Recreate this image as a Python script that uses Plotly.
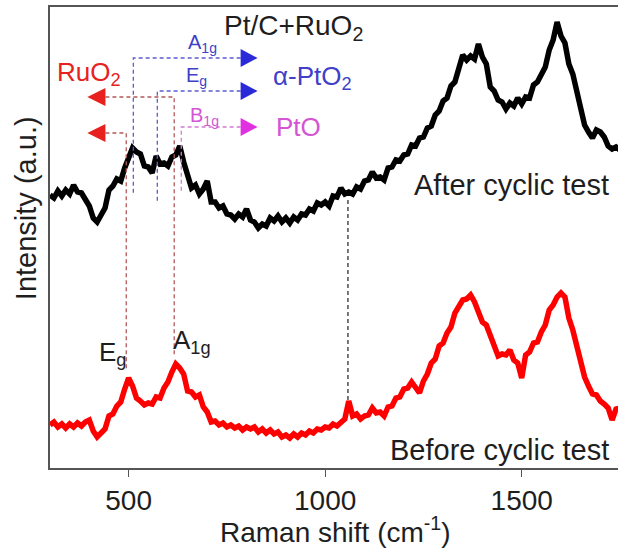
import plotly.graph_objects as go

# Raman shift grid (cm^-1)
shift = list(range(300, 1751, 10))

# Pt/C+RuO2 after cyclic test
after_cyclic = [
    273, 270, 277, 272, 278, 274, 283, 276, 275, 268,
    262, 250, 246, 253, 260, 278, 282, 289, 287, 300,
    309, 320, 316, 314, 302, 301, 295, 312, 304, 305,
    302, 311, 313, 322, 306, 291, 280, 283, 274, 279,
    287, 266, 266, 260, 262, 254, 253, 249, 254, 251,
    259, 248, 246, 240, 244, 242, 250, 247, 252, 246,
    250, 245, 251, 248, 254, 253, 259, 257, 265, 263,
    266, 262, 272, 271, 280, 274, 276, 274, 281, 279,
    287, 288, 296, 290, 291, 288, 300, 301, 308, 307,
    313, 314, 323, 322, 330, 331, 340, 342, 353, 357,
    367, 370, 382, 386, 402, 413, 408, 412, 409, 424,
    411, 404, 381, 377, 368, 366, 359, 365, 362, 370,
    364, 371, 370, 383, 386, 395, 401, 418, 428, 446,
    432, 425, 404, 394, 377, 362, 343, 336, 330, 338,
    336, 331, 322, 319, 321, 318,
]

# Pt/C+RuO2 before cyclic test
before_cyclic = [
    43, 46, 41, 44, 40, 44, 41, 45, 42, 46,
    48, 37, 31, 35, 39, 52, 54, 62, 66, 79,
    90, 82, 70, 67, 63, 65, 64, 71, 70, 80,
    86, 96, 104, 100, 94, 77, 76, 71, 73, 61,
    56, 46, 47, 43, 45, 41, 43, 40, 42, 38,
    41, 39, 41, 36, 39, 35, 38, 34, 36, 31,
    33, 30, 34, 31, 35, 33, 37, 35, 39, 38,
    41, 40, 44, 42, 46, 49, 67, 52, 54, 49,
    52, 53, 60, 55, 56, 52, 61, 62, 70, 71,
    79, 80, 86, 81, 75, 87, 94, 105, 109, 122,
    125, 135, 141, 155, 161, 168, 169, 173, 166, 154,
    146, 143, 132, 125, 112, 114, 113, 118, 108, 105,
    90, 113, 116, 125, 126, 136, 143, 158, 163, 171,
    175, 171, 150, 138, 121, 107, 91, 82, 74, 73,
    67, 64, 60, 48, 59, 60,
]

tick_vals = [500, 1000, 1500]

TXT = "#1e1e1e"
RED = "#e8201e"
RED_GUIDE = "#b05a5a"
BLUE = "#2a2ad8"
BLUE_TXT = "#4040c8"
BLUE_GUIDE = "#5c5cd0"
MAG = "#e030e0"
MAG_TXT = "#d455d4"
MAG_GUIDE = "#d47ad4"
FONT = "Liberation Sans, Arial, sans-serif"

fig = go.Figure()

fig.add_trace(go.Scatter(x=shift, y=after_cyclic, mode="lines",
                         line=dict(color="black", width=5.5), showlegend=False))
fig.add_trace(go.Scatter(x=shift, y=before_cyclic, mode="lines",
                         line=dict(color="#ff0000", width=5.5), showlegend=False))


def guide(xs, ys, color):
    fig.add_trace(go.Scatter(x=xs, y=ys, mode="lines", hoverinfo="skip",
                             line=dict(color=color, width=1.3, dash="4px,3px"),
                             showlegend=False))


# RuO2 mode guides
guide([441, 616, 616], [371, 371, 111], RED_GUIDE)
guide([441, 494, 494], [335, 335, 98], RED_GUIDE)
# alpha-PtO2 mode guides
guide([785, 512, 512], [410, 410, 273], BLUE_GUIDE)
guide([785, 573, 573], [377, 377, 266], BLUE_GUIDE)
# PtO mode guide
guide([785, 634, 634], [341, 341, 275], MAG_GUIDE)
# 1058 cm-1 guide
guide([1058, 1058], [268, 68], "#303030")


def arrow(x_base, x_tip, yc, color, half=9):
    fig.add_shape(type="path", xref="x", yref="y", layer="above",
                  path=f"M {x_base} {yc - half} L {x_base} {yc + half} L {x_tip} {yc} Z",
                  fillcolor=color, line=dict(color=color, width=0))


arrow(441, 395, 371, RED)
arrow(441, 395, 335, RED)
arrow(785, 828, 410, BLUE)
arrow(785, 828, 377, BLUE)
arrow(785, 828, 341, MAG)


def label(x, y, text, size, color=TXT):
    fig.add_annotation(x=x, y=y, xref="x", yref="y", text=text, showarrow=False,
                       font=dict(family=FONT, size=size, color=color),
                       xanchor="center", yanchor="middle")


label(919, 441, "Pt/C+RuO<sub>2</sub>", 28)
label(398, 395, "RuO<sub>2</sub>", 26, RED)
label(967, 391, "α-PtO<sub>2</sub>", 26, BLUE_TXT)
label(932, 341, "PtO", 26, MAG_TXT)
label(688, 425, "A<sub>1g</sub>", 20, BLUE_TXT)
label(673, 392, "E<sub>g</sub>", 20, BLUE_TXT)
label(693, 352, "B<sub>1g</sub>", 20, MAG_TXT)
label(1473, 283, "After cyclic test", 29)
label(1443, 18, "Before cyclic test", 29)
label(459, 115, "E<sub>g</sub>", 26)
label(660, 127, "A<sub>1g</sub>", 26)

# axis titles
fig.add_annotation(x=-0.042, y=0.564, xref="paper", yref="paper",
                   xanchor="center", yanchor="middle",
                   text="Intensity (a.u.)", textangle=-90, showarrow=False,
                   font=dict(family=FONT, size=29, color=TXT))
fig.add_annotation(x=0.502, y=-0.134, xref="paper", yref="paper",
                   xanchor="center", yanchor="middle",
                   text="Raman shift (cm<sup>-1</sup>)", showarrow=False,
                   font=dict(family=FONT, size=28, color=TXT))

fig.update_xaxes(range=[300, 1745], tickvals=tick_vals, ticks="outside", ticklen=7,
                 tickwidth=1.3, tickcolor="#555", showline=True, linecolor="#555",
                 linewidth=1.5, mirror=True, showgrid=False, zeroline=False,
                 tickfont=dict(family=FONT, size=28, color=TXT))
fig.update_yaxes(range=[0, 461], showticklabels=False, ticks="", showline=True,
                 linecolor="#555", linewidth=1.5, showgrid=False, zeroline=False)

fig.update_layout(width=618, height=554, margin=dict(l=50, r=0, t=7, b=86),
                  plot_bgcolor="white", paper_bgcolor="white", showlegend=False)

fig.write_html("out.html")
